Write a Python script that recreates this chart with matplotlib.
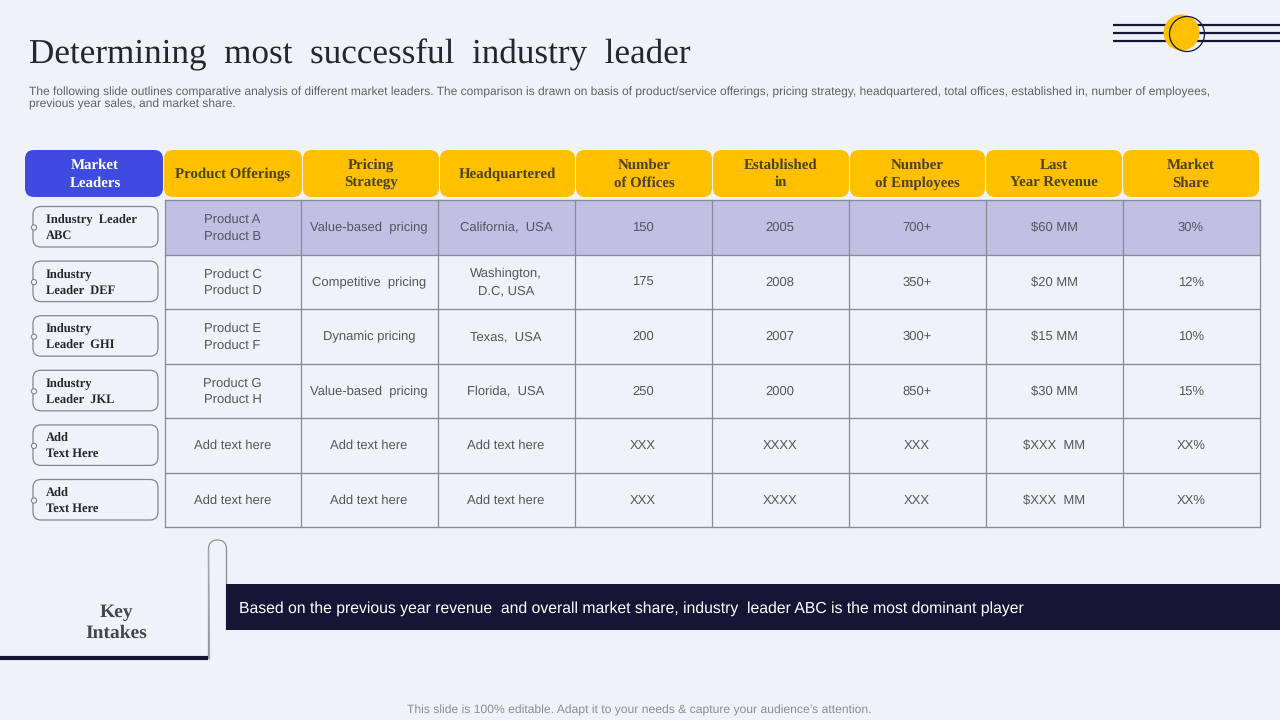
import matplotlib
matplotlib.use("Agg")
import matplotlib.pyplot as plt
from matplotlib.patches import FancyBboxPatch, Rectangle, Circle

plt.rcParams["text.hinting"] = "no_hinting"

BG = "#F0F2FA"
NAVY = "#151635"
GOLD = "#FFC000"
BLUE = "#3F4BE0"
LAV = "#BFC0E3"
GRID = "#8A8A92"
SERIF = "Liberation Serif"
SANS = "Liberation Sans"

title = "Determining  most  successful  industry  leader"
subtitle = ("The following slide outlines comparative analysis of different market leaders. The comparison is drawn on basis of product/service offerings, pricing strategy, headquartered, total offices, established in, number of employees,\n"
            "previous year sales, and market share.")
first_header = "Market\nLeaders"
headers = ["Product Offerings", "Pricing\nStrategy", "Headquartered", "Number\nof Offices",
           "Established\nin", "Number\nof Employees", "Last\nYear Revenue", "Market\nShare"]
leaders = ["Industry  Leader\nABC", "Industry\nLeader  DEF", "Industry\nLeader  GHI",
           "Industry\nLeader  JKL", "Add\nText Here", "Add\nText Here"]
products = ["Product A\nProduct B", "Product C\nProduct D", "Product E\nProduct F",
            "Product G\nProduct H", "Add text here", "Add text here"]
pricing = ["Value-based  pricing", "Competitive  pricing", "Dynamic pricing",
           "Value-based  pricing", "Add text here", "Add text here"]
hq = ["California,  USA", "Washington,\nD.C, USA", "Texas,  USA", "Florida,  USA",
      "Add text here", "Add text here"]
offices = ["150", "175", "200", "250", "XXX", "XXX"]
established = ["2005", "2008", "2007", "2000", "XXXX", "XXXX"]
employees = ["700+", "350+", "300+", "850+", "XXX", "XXX"]
revenue = ["$60 MM", "$20 MM", "$15 MM", "$30 MM", "$XXX  MM", "$XXX  MM"]
share = ["30%", "12%", "10%", "15%", "XX%", "XX%"]
columns = [products, pricing, hq, offices, established, employees, revenue, share]
key_label = "Key\nIntakes"
key_text = "Based on the previous year revenue  and overall market share, industry  leader ABC is the most dominant player"
footer = "This slide is 100% editable. Adapt it to your needs & capture your audience\u2019s attention."

col_x = [164.5, 300.5, 437.5, 574.5, 711.5, 848.5, 985.5, 1122.5, 1259.5]
row_y = [199.5, 254.5, 308.5, 363.5, 417.5, 472.5, 526.5]

fig = plt.figure(figsize=(12.8, 7.2), dpi=100, facecolor=BG)
ax = fig.add_axes([0, 0, 1, 1])
ax.set_xlim(0, 1280)
ax.set_ylim(720, 0)
ax.axis("off")


def rbox(x, y, w, h, r, fc, ec="none", lw=0, z=2):
    p = FancyBboxPatch((x + r, y + r), w - 2 * r, h - 2 * r,
                       boxstyle=f"round,pad={r},rounding_size={r}",
                       fc=fc, ec=ec, lw=lw, zorder=z)
    ax.add_patch(p)


ax.text(29, 55, title, family=SERIF, fontsize=25.3, color="#26262E", va="center", ha="left")
ax.text(29, 98.5, subtitle, family=SANS, fontsize=8.65, color="#5F6068", va="center", ha="left",
        linespacing=1.18)

# top-right ornament
for y in (25, 33, 41):
    ax.plot([1113, 1280], [y, y], color=NAVY, lw=1.6, zorder=1, solid_capstyle="butt")
ax.add_patch(Circle((1181.5, 32.5), 18, fc=GOLD, ec="none", zorder=2))
ax.add_patch(Circle((1187, 34), 17.5, fc="none", ec=NAVY, lw=0.9, zorder=3))

# header row
rbox(25, 150, 138, 47, 9, BLUE)
ax.text(95, 174, first_header, family=SERIF, weight="bold", fontsize=10.7, color="white",
        ha="center", va="center", linespacing=1.38, zorder=4)
hdr_x = [164, 303, 440, 576, 713, 850, 986, 1123]
hdr_w = [138, 136, 135, 136, 136, 135, 136, 136]
for x, w, h in zip(hdr_x, hdr_w, headers):
    rbox(x, 150, w, 47, 9, GOLD)
    ax.text(x + w / 2, 174, h, family=SERIF, weight="bold", fontsize=10.7, color="#4A4226",
            ha="center", va="center", linespacing=1.38, zorder=4)

# table
ax.add_patch(Rectangle((col_x[0], row_y[0]), col_x[-1] - col_x[0], row_y[1] - row_y[0],
                       fc=LAV, ec="none", zorder=1))
for x in col_x:
    ax.plot([x, x], [row_y[0], row_y[-1]], color=GRID, lw=0.9, zorder=2)
for y in row_y:
    ax.plot([col_x[0], col_x[-1]], [y, y], color=GRID, lw=0.95, zorder=2)
for c, col in enumerate(columns):
    cx = (col_x[c] + col_x[c + 1]) / 2
    for r, val in enumerate(col):
        ax.text(cx, (row_y[r] + row_y[r + 1]) / 2 + 1, val, family=SANS, fontsize=9.4, color="#55555D",
                ha="center", va="center", linespacing=1.45, zorder=4)

# leader labels
for i, lab in enumerate(leaders):
    top = 206.5 + i * 54.6
    rbox(33, top, 125, 40.5, 8, BG, ec="#85858D", lw=0.9)
    ax.add_patch(Circle((34, top + 21), 2.6, fc=BG, ec="#85858D", lw=0.8, zorder=3))
    ax.text(46, top + 21, lab, family=SERIF, weight="bold", fontsize=9.0, color="#26262E",
            ha="left", va="center", linespacing=1.5, zorder=4)

# key intakes
ax.plot([0, 208], [658, 658], color=NAVY, lw=3, solid_capstyle="butt", zorder=3)
ax.text(116, 623, key_label, family=SERIF, weight="bold", fontsize=14, color="#45454D",
        ha="center", va="center", linespacing=1.3)
rbox(208.5, 540, 18, 150, 9, BG, ec="#8E8E96", lw=0.9, z=1)
ax.add_patch(Rectangle((212, 630), 30, 70, fc=BG, ec="none", zorder=1.5))
ax.add_patch(Rectangle((200, 659), 40, 40, fc=BG, ec="none", zorder=1.5))
ax.plot([208.5, 209.5], [550, 659], color="#A5A5AD", lw=1, zorder=2)
ax.add_patch(Rectangle((226, 584), 1054, 46, fc=NAVY, ec="none", zorder=3))
ax.text(239, 608.5, key_text, family=SANS, fontsize=11.3, color="white", ha="left", va="center", zorder=4)

ax.text(639, 710.5, footer, family=SANS, fontsize=8.75, color="#8C8C94", ha="center", va="center")

fig.savefig("out.png", dpi=100, facecolor=BG)
